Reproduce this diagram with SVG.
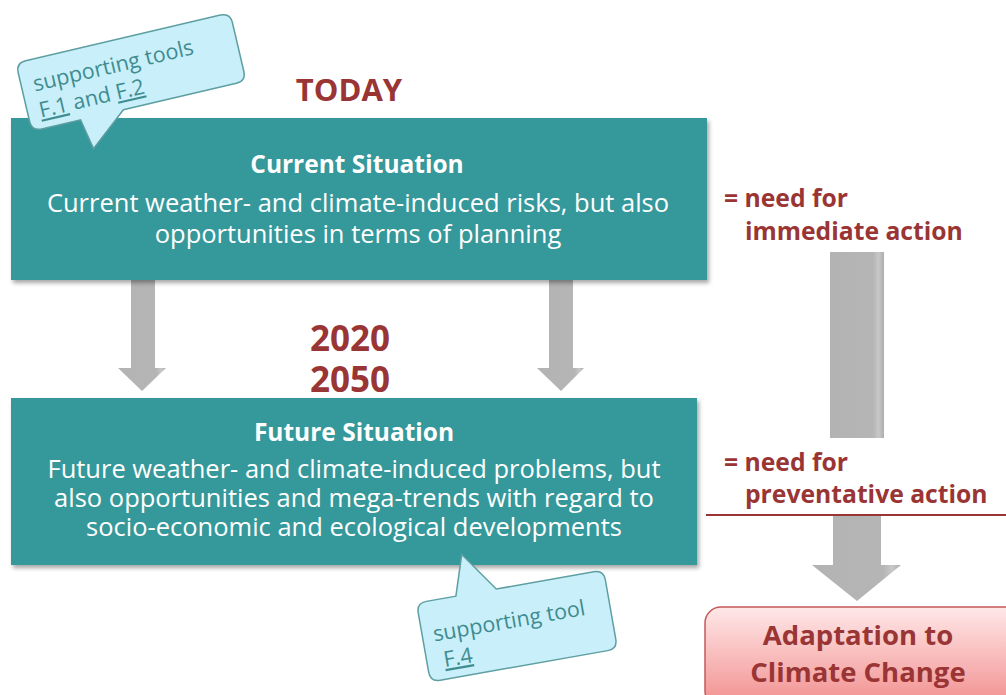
<svg xmlns="http://www.w3.org/2000/svg" width="1006" height="695" viewBox="0 0 1006 695">
<defs>
<style>
.t{font-family:"Open Sans","Noto Sans","Liberation Sans",sans-serif}
.box{fill:#35989A}
.wt{fill:#ffffff;text-anchor:middle;font-size:25.5px}
.wb{fill:#ffffff;text-anchor:middle;font-size:24.5px;font-weight:bold}
.red{fill:#9A3535;font-weight:bold}
.call{fill:#C9EFFA;stroke:#5E9FA2;stroke-width:1.5}
.ct{fill:#3E8C8F;font-size:21.5px}
</style>
<filter id="sh" x="-5%" y="-5%" width="110%" height="115%">
<feDropShadow dx="2" dy="3" stdDeviation="2" flood-color="#000" flood-opacity="0.35"/>
</filter>
<linearGradient id="gs" x1="0" y1="0" x2="1" y2="0">
<stop offset="0" stop-color="#B3B3B3"/>
<stop offset="0.8" stop-color="#B5B5B5"/>
<stop offset="0.9" stop-color="#C8C8C8"/>
<stop offset="1" stop-color="#ADADAD"/>
</linearGradient>
<linearGradient id="pk" x1="0" y1="0" x2="0" y2="1">
<stop offset="0" stop-color="#FFE8E8"/>
<stop offset="1" stop-color="#F28E8E"/>
</linearGradient>
</defs>
<rect width="1006" height="695" fill="#ffffff"/>

<g id="connectors">
<path d="M131,280 H155 V368 H166 L142,391 L118,368 H131 Z" fill="url(#gs)"/>
<path d="M549,280 H573 V368 H584 L561,391 L537,368 H549 Z" fill="url(#gs)"/>
<rect x="830" y="252" width="54" height="186" fill="url(#gs)"/>
<path d="M833,516 H881 V565 H901 L857,601 L812,565 H833 Z" fill="url(#gs)"/>
<line x1="706" y1="515" x2="1006" y2="515" stroke="#9A3535" stroke-width="2"/>
</g>

<g id="today" class="t">
<text class="red" x="349" y="101" font-size="31" text-anchor="middle">TODAY</text>
</g>

<g id="current">
<rect class="box" x="11" y="118" width="696" height="162" filter="url(#sh)"/>
<text class="t wb" x="357" y="173">Current Situation</text>
<text class="t wt" x="358" y="212">Current weather- and climate-induced risks, but also</text>
<text class="t wt" x="358" y="243">opportunities in terms of planning</text>
</g>

<g id="years" class="t">
<text class="red" x="350" y="351" font-size="35" text-anchor="middle">2020</text>
<text class="red" x="350" y="392" font-size="35" text-anchor="middle">2050</text>
</g>

<g id="future">
<rect class="box" x="11" y="398" width="686" height="167" filter="url(#sh)"/>
<text class="t wb" x="354" y="441">Future Situation</text>
<text class="t wt" x="354" y="478">Future weather- and climate-induced problems, but</text>
<text class="t wt" x="354" y="507">also opportunities and mega-trends with regard to</text>
<text class="t wt" x="354" y="536">socio-economic and ecological developments</text>
</g>

<g id="immediate" class="t">
<text class="red" x="724" y="207" font-size="24.7">= need for</text>
<text class="red" x="745" y="240" font-size="24.7">immediate action</text>
</g>

<g id="preventative" class="t">
<text class="red" x="724" y="471" font-size="24.7">= need for</text>
<text class="red" x="745" y="503" font-size="24.7">preventative action</text>
</g>

<g id="adaptation">
<rect x="705" y="607" width="320" height="100" rx="16" fill="url(#pk)" stroke="#C45A5A" stroke-width="1.5"/>
<text class="t red" x="858" y="645" font-size="27.5" text-anchor="middle">Adaptation to</text>
<text class="t red" x="858" y="682" font-size="27.5" text-anchor="middle">Climate Change</text>
</g>

<g id="callout1" transform="translate(131,72) rotate(-13.2)">
<path class="call" d="M-100,-35 H100 Q110,-35 110,-25 V25 Q110,35 100,35 H-16 L-54,66 L-60,35 H-100 Q-110,35 -110,25 V-25 Q-110,-35 -100,-35 Z"/>
<text class="t ct" x="-98" y="-3">supporting tools</text>
<text class="t ct" x="-98" y="24"><tspan text-decoration="underline">F.1</tspan> and <tspan text-decoration="underline">F.2</tspan></text>
</g>

<g id="callout2" transform="translate(517,626) rotate(-10)">
<path class="call" d="M-85,-40 H-55 L-42,-80 L-14,-40 H85 Q95,-40 95,-30 V30 Q95,40 85,40 H-85 Q-95,40 -95,30 V-30 Q-95,-40 -85,-40 Z"/>
<text class="t ct" x="-84" y="1">supporting tool</text>
<text class="t ct" x="-78" y="28"><tspan text-decoration="underline">F.4</tspan></text>
</g>
</svg>
